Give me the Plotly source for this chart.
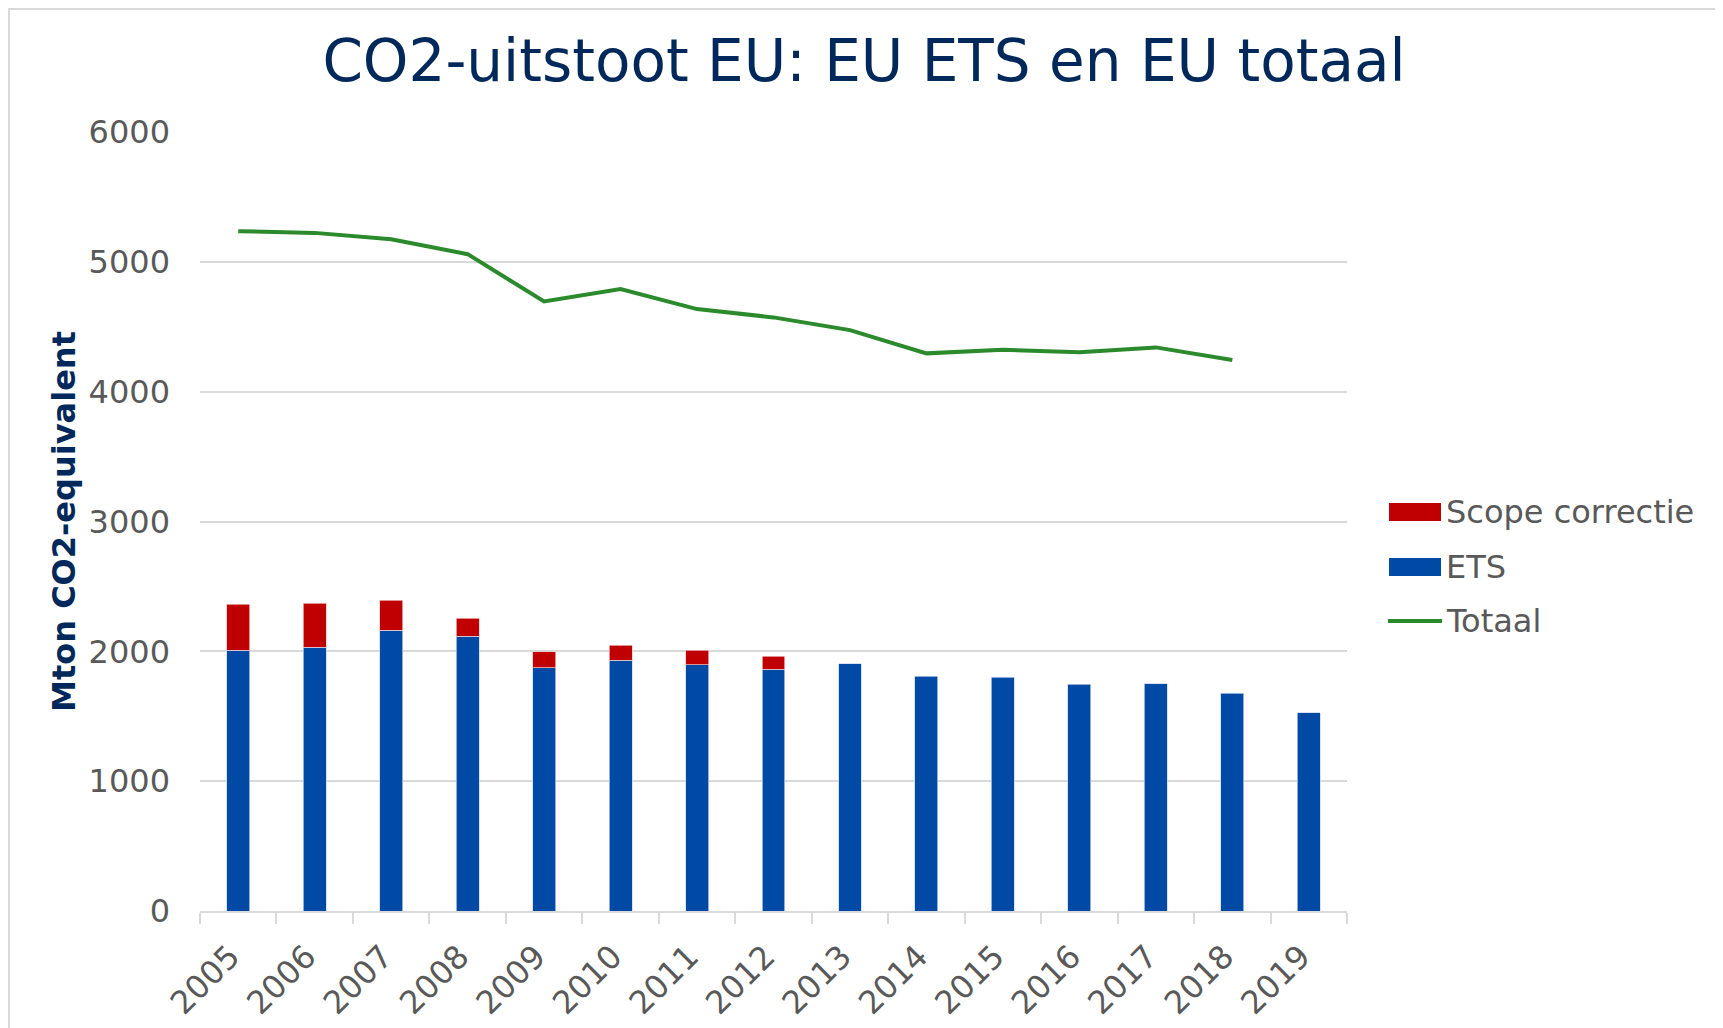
import plotly.graph_objects as go

# ---- data ----
years = ["2005", "2006", "2007", "2008", "2009", "2010", "2011", "2012",
         "2013", "2014", "2015", "2016", "2017", "2018", "2019"]
ets = [2008, 2031, 2162, 2115, 1874, 1933, 1897, 1862,
       1903, 1810, 1800, 1746, 1751, 1677, 1526]
scope_correctie = [356, 338, 233, 139, 123, 113, 111, 102,
                   None, None, None, None, None, None, None]
totaal_years = years[:14]
totaal = [5236, 5223, 5174, 5059, 4695, 4790, 4636, 4572,
          4474, 4295, 4323, 4303, 4341, 4244]
series_names = ["Scope correctie", "ETS", "Totaal"]
y_ticks = [0, 1000, 2000, 3000, 4000, 5000, 6000]

# ---- style ----
OFF = 8                      # default page margin around the plot div
W, H = 1723 - OFF, 1028 - OFF
ML = 200 - OFF
MT = 132 - OFF
MR = W - (1347 - OFF)
MB = H - (911 - OFF)
PW, PH = W - ML - MR, H - MT - MB
RED, BLUE, GREEN = "#c00000", "#0049a4", "#2b8a2b"
GRID = "#d9d9d9"
TXT = "#595959"
NAVY = "#00285a"
FONT = "DejaVu Sans"
FS = 32


def px(x):  # page pixel -> paper fraction
    return (x - OFF - ML) / PW


def py(y):
    return 1 - (y - OFF - MT) / PH


fig = go.Figure()
fig.add_trace(go.Bar(x=years, y=ets, name=series_names[1], marker_color=BLUE,
                     marker_line=dict(width=0.8, color="rgba(200,215,240,0.9)"),
                     showlegend=False))
fig.add_trace(go.Bar(x=years, y=scope_correctie, name=series_names[0], marker_color=RED,
                     marker_line=dict(width=0.8, color="rgba(240,200,200,0.9)"),
                     showlegend=False))
fig.add_trace(go.Scatter(x=totaal_years, y=totaal, name=series_names[2], mode="lines",
                         line=dict(color=GREEN, width=4), showlegend=False))

# manual legend (wide swatches as in the original) + chart frame
shapes = [
    dict(type="rect", xref="paper", yref="paper", x0=px(OFF + 1), x1=px(1719), y0=py(OFF + 1),
         y1=py(1040), line=dict(color=GRID, width=2), fillcolor="rgba(0,0,0,0)", layer="below"),
    dict(type="rect", xref="paper", yref="paper", x0=px(1389), x1=px(1441), y0=py(503), y1=py(521),
         line=dict(width=0), fillcolor=RED),
    dict(type="rect", xref="paper", yref="paper", x0=px(1389), x1=px(1441), y0=py(558), y1=py(576),
         line=dict(width=0), fillcolor=BLUE),
    dict(type="line", xref="paper", yref="paper", x0=px(1388), x1=px(1442), y0=py(621), y1=py(621),
         line=dict(color=GREEN, width=4)),
]
annotations = []
for name, yc in zip(series_names, [512, 567, 621]):
    annotations.append(dict(text=name, xref="paper", yref="paper", x=px(1444), y=py(yc),
                            xanchor="left", yanchor="middle", showarrow=False,
                            font=dict(family=FONT, size=FS, color=TXT)))

fig.update_layout(
    width=W, height=H,
    margin=dict(l=ML, r=MR, t=MT, b=MB, autoexpand=False),
    paper_bgcolor="white", plot_bgcolor="white",
    barmode="stack", bargap=0.70,
    showlegend=False,
    title=dict(text="CO2-uitstoot EU: EU ETS en EU totaal", x=(864 - OFF) / W, xref="container",
               xanchor="center", y=1 - 53 / H, yref="container", yanchor="middle",
               font=dict(family=FONT, size=58, color=NAVY)),
    font=dict(family=FONT, size=FS, color=TXT),
    shapes=shapes, annotations=annotations,
)
fig.update_xaxes(type="category", showline=True, linecolor=GRID, linewidth=2,
                 ticks="outside", tickson="boundaries", ticklen=11, tickcolor=GRID, tickwidth=2,
                 tickangle=-45, tickfont=dict(family=FONT, size=FS, color=TXT),
                 ticklabelstandoff=12, ticklabelshift=-8,
                 showgrid=False, automargin=False)
fig.update_yaxes(range=[0, 6000], tickvals=y_ticks, showgrid=True, gridcolor=GRID, gridwidth=1.5,
                 zeroline=False, showline=False, ticks="", ticklabelstandoff=29,
                 tickfont=dict(family=FONT, size=FS, color=TXT),
                 title=dict(text="<b>Mton CO2-equivalent</b>", standoff=3,
                            font=dict(family=FONT, size=32, color=NAVY)),
                 automargin=False)

fig.write_html("out.html")
